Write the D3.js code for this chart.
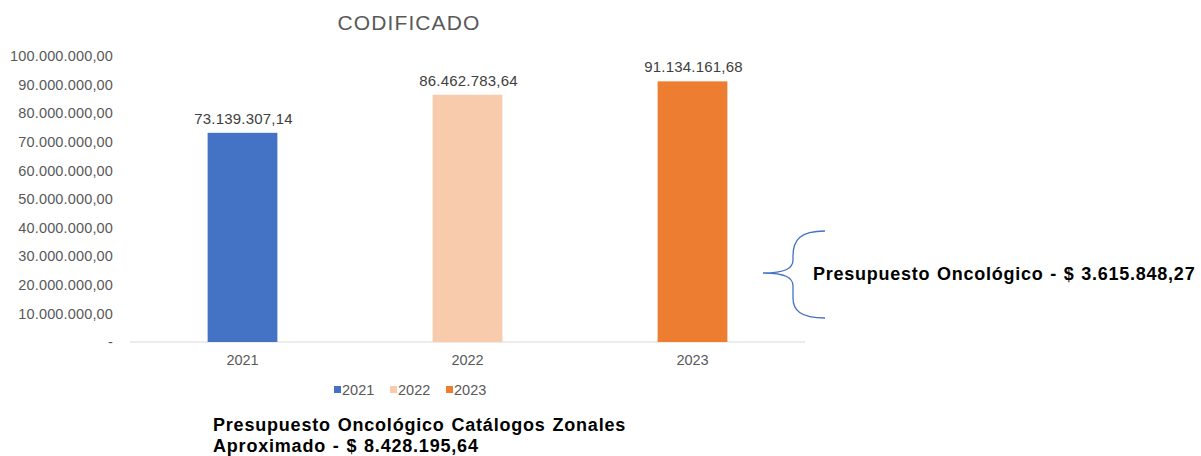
<!doctype html>
<html>
<head>
	<meta charset="utf-8">
	<title>Codificado</title>
	<script src="https://d3js.org/d3.v7.min.js"></script>
	<style>
	body { margin: 0; background: #fff; }
	svg text { font-family: "Liberation Sans", Arial, sans-serif; }
	.axis path { display: none; }
	.axis line { display: none; }
	</style>
</head>
<body>
<script>

	// chart values
	var years = ["2021", "2022", "2023"];
	var values = [73139307.14, 86462783.64, 91134161.68];
	var colors = ["#4472C4", "#F8CBAD", "#ED7D31"];
	var yTicks = [0, 10e6, 20e6, 30e6, 40e6, 50e6, 60e6, 70e6, 80e6, 90e6, 100e6];

	var title = "CODIFICADO";
	var noteRight = "Presupuesto Oncológico - $ 3.615.848,27";
	var noteBottom = ["Presupuesto Oncológico Catálogos Zonales", "Aproximado - $ 8.428.195,64"];

	var svg = d3.select("body").append("svg")
		.attr("width", 1201)
		.attr("height", 456);

	// number format like 73.139.307,14
	var fmt = d3.formatLocale({decimal: ",", thousands: ".", grouping: [3], currency: ["$", ""]}).format(",.2f");

	var xScale = d3.scaleBand()
		.domain(years)
		.range([130, 805])
		.paddingInner(0.69)
		.paddingOuter(0.345);

	var yScale = d3.scaleLinear()
		.domain([0, 100e6])
		.range([342, 56]);

	// title
	svg.append("text")
		.attr("x", 409).attr("y", 30)
		.attr("text-anchor", "middle")
		.attr("font-size", "21px")
		.attr("letter-spacing", "1.1px")
		.attr("fill", "#595959")
		.text(title);

	// y axis labels
	var yAxis = d3.axisLeft(yScale)
		.tickValues(yTicks)
		.tickSize(0)
		.tickPadding(0)
		.tickFormat(function(d) { return d === 0 ? "-" : fmt(d); });

	svg.append("g")
		.attr("class", "y axis")
		.attr("transform", "translate(113,0)")
		.call(yAxis)
		.selectAll("text")
		.attr("font-size", "14.5px")
		.attr("letter-spacing", "0.15px")
		.attr("fill", "#595959")
		.attr("font-family", "Liberation Sans, Arial, sans-serif");

	// baseline
	svg.append("line")
		.attr("x1", 130).attr("x2", 805)
		.attr("y1", yScale(0)).attr("y2", yScale(0))
		.attr("stroke", "#d9d9d9")
		.attr("stroke-width", 1);

	// x axis labels
	var xAxis = d3.axisBottom(xScale).tickSize(0).tickPadding(13);
	svg.append("g")
		.attr("class", "x axis")
		.attr("transform", "translate(0," + yScale(0) + ")")
		.call(xAxis)
		.selectAll("text")
		.attr("font-size", "14.5px")
		.attr("fill", "#595959")
		.attr("font-family", "Liberation Sans, Arial, sans-serif");

	// bars
	svg.selectAll(".bar")
		.data(values)
		.enter().append("rect")
		.attr("class", "bar")
		.attr("x", function(d, i) { return xScale(years[i]); })
		.attr("width", xScale.bandwidth())
		.attr("y", function(d) { return yScale(d); })
		.attr("height", function(d) { return yScale(0) - yScale(d); })
		.attr("fill", function(d, i) { return colors[i]; });

	// data labels
	svg.selectAll(".lbl")
		.data(values)
		.enter().append("text")
		.attr("class", "lbl")
		.attr("x", function(d, i) { return xScale(years[i]) + xScale.bandwidth() / 2 + 1; })
		.attr("y", function(d) { return yScale(d) - 9; })
		.attr("text-anchor", "middle")
		.attr("font-size", "15px")
		.attr("letter-spacing", "0.2px")
		.attr("fill", "#404040")
		.text(function(d) { return fmt(d); });

	// legend
	var legendX = [330, 386, 442];
	var legend = svg.selectAll(".leg")
		.data(years)
		.enter().append("g")
		.attr("class", "leg")
		.attr("transform", function(d, i) { return "translate(" + legendX[i] + ",390)"; });
	legend.append("rect")
		.attr("x", 4).attr("y", -4)
		.attr("width", 7).attr("height", 7)
		.attr("fill", function(d, i) { return colors[i]; });
	legend.append("text")
		.attr("x", 12).attr("y", 5)
		.attr("font-size", "14.5px")
		.attr("fill", "#595959")
		.text(function(d) { return d; });

	// right brace + note
	var brace = d3.path();
	brace.moveTo(825, 231);
	brace.bezierCurveTo(800, 231, 793, 240, 793, 256);
	brace.lineTo(793, 260);
	brace.bezierCurveTo(793, 268, 786, 273, 763, 273);
	brace.bezierCurveTo(786, 273, 793, 278, 793, 286);
	brace.lineTo(793, 298);
	brace.bezierCurveTo(793, 310, 800, 318, 825, 318);
	svg.append("path")
		.attr("d", brace.toString())
		.attr("fill", "none")
		.attr("stroke", "#4472C4")
		.attr("stroke-width", 1.3);

	svg.append("text")
		.attr("x", 813).attr("y", 280)
		.attr("font-size", "18px")
		.attr("font-weight", "bold")
		.attr("letter-spacing", "0.75px")
		.attr("word-spacing", "1px")
		.attr("fill", "#000")
		.text(noteRight);

	// bottom note
	svg.selectAll(".note")
		.data(noteBottom)
		.enter().append("text")
		.attr("class", "note")
		.attr("x", 213)
		.attr("y", function(d, i) { return 431 + i * 21; })
		.attr("font-size", "18px")
		.attr("font-weight", "bold")
		.attr("letter-spacing", "0.8px")
		.attr("word-spacing", "1px")
		.attr("fill", "#000")
		.text(function(d) { return d; });

</script>
</body>
</html>
